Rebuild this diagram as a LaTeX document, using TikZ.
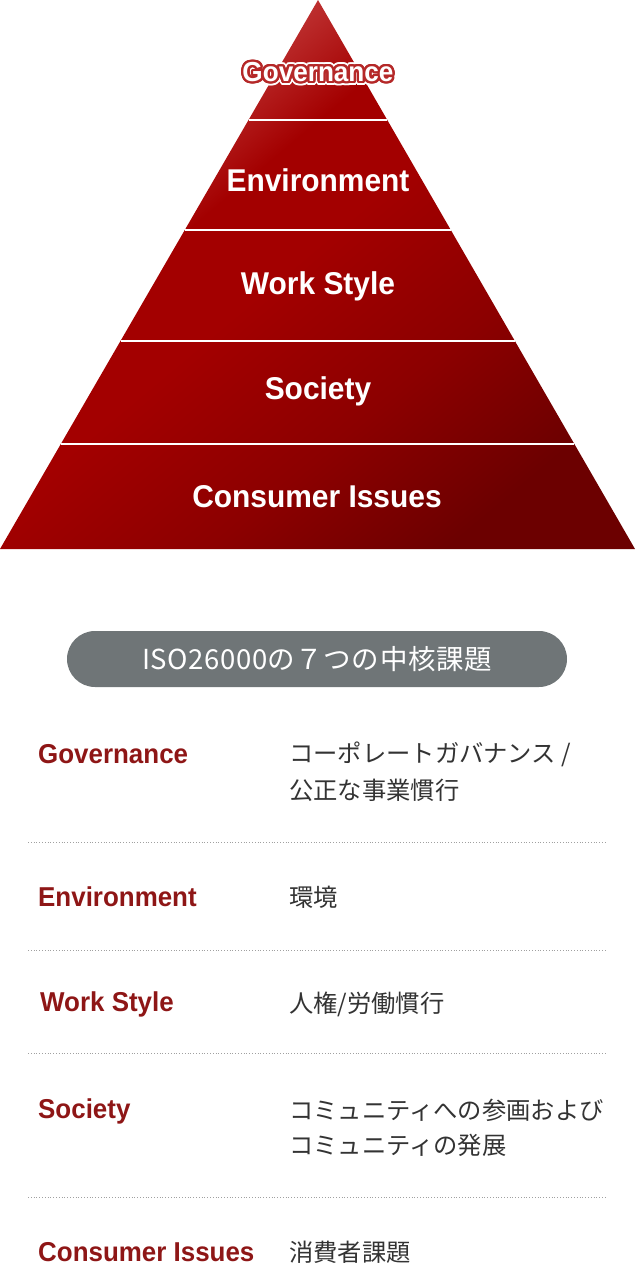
\documentclass[tikz,border=0pt]{standalone}
\usepackage{fontspec}
\newfontfamily\labfont[FakeStretch=0.95]{Liberation Sans}
\newfontfamily\jpfont{Noto Sans CJK JP}
\newfontfamily\jppill[LetterSpace=2]{Noto Sans CJK JP}
\definecolor{redlight}{HTML}{C43C3C}
\definecolor{redmid}{HTML}{A30000}
\definecolor{redmid2}{HTML}{8C0000}
\definecolor{reddark}{HTML}{6C0000}
\definecolor{labred}{HTML}{8E1616}
\definecolor{jpgray}{HTML}{333333}
\definecolor{pillgray}{HTML}{6F7577}
\definecolor{outred}{HTML}{B52828}
\definecolor{sepgray}{HTML}{A0A0A0}
\pgfdeclareverticalshading{pyrshade}{100bp}{color(0bp)=(reddark); color(25bp)=(reddark); color(38bp)=(redmid2); color(52bp)=(redmid); color(60bp)=(redmid); color(70bp)=(redlight); color(100bp)=(redlight)}
\tikzset{
  pyrlab/.style={text=white, font=\labfont\bfseries\fontsize{31.5}{36}\selectfont, inner sep=0pt},
  govlab/.style={font=\labfont\bfseries\fontsize{27.5}{32}\selectfont, inner sep=0pt},
  rowlab/.style={text=labred, font=\labfont\bfseries\fontsize{27.3}{30}\selectfont, anchor=west, inner sep=0pt},
  jptext/.style={text=jpgray, font=\jpfont\fontsize{24.3}{28}\selectfont, anchor=west, inner sep=0pt},
  sepline/.style={draw=sepgray, line width=0.8pt, dotted},
  layerline/.style={draw=white, line width=2pt},
  pill/.style={fill=pillgray, rounded corners=28pt, minimum width=500pt, minimum height=56pt, text=white, font=\jppill\fontsize{27.5}{30}\selectfont}
}
\begin{document}
\begin{tikzpicture}[x=1pt,y=-1pt]
\useasboundingbox (0,0) rectangle (635,1265);
% pyramid
\shade[shading=pyrshade, shading angle=40]
  (318,0) -- (635,549) -- (0,549) -- cycle;
\coordinate (l1) at (248.5,120); \coordinate (r1) at (387.3,120);
\coordinate (l2) at (184.8,230); \coordinate (r2) at (450.8,230);
\coordinate (l3) at (120.5,341); \coordinate (r3) at (514.9,341);
\coordinate (l4) at (60.8,444);  \coordinate (r4) at (574.4,444);
\draw[layerline] (l1) -- (r1);
\draw[layerline] (l2) -- (r2);
\draw[layerline] (l3) -- (r3);
\draw[layerline] (l4) -- (r4);
% Governance with outline
\foreach \a in {0,15,...,345} {
  \node[govlab, text=white] (gw\a) at ({318+4.2*cos(\a)},{72+4.2*sin(\a)}) {Governance};
}
\foreach \a in {0,15,...,345} {
  \node[govlab, text=outred] (gr\a) at ({318+2.3*cos(\a)},{72+2.3*sin(\a)}) {Governance};
}
\node[govlab, text=white] (pgov) at (318,72) {Governance};
\node[pyrlab] (penv) at (318,180) {Environment};
\node[pyrlab] (pwork) at (318,286) {Work Style};
\node[pyrlab] (psoc) at (318,391) {Society};
\node[pyrlab] (pcons) at (317,497) {Consumer Issues};
% pill
\node[pill] (title) at (317,659) {ISO26000の７つの中核課題};
% rows
\node[rowlab] (tgov) at (38,754) {Governance};
\node[jptext] (jgov1) at (289,754) {コーポレートガバナンス /};
\node[jptext] (jgov2) at (289,790) {公正な事業慣行};
\coordinate (s1a) at (28,842); \coordinate (s1b) at (607,842);
\draw[sepline] (s1a) -- (s1b);
\node[rowlab] (tenv) at (38,897) {Environment};
\node[jptext] (jenv) at (289,897) {環境};
\coordinate (s2a) at (28,950); \coordinate (s2b) at (607,950);
\draw[sepline] (s2a) -- (s2b);
\node[rowlab] (twork) at (40,1004) {Work Style};
\node[jptext] (jwork) at (289,1004) {人権/労働慣行};
\coordinate (s3a) at (28,1053); \coordinate (s3b) at (607,1053);
\draw[sepline] (s3a) -- (s3b);
\node[rowlab] (tsoc) at (38,1111) {Society};
\node[jptext] (jsoc1) at (289,1110) {コミュニティへの参画および};
\node[jptext] (jsoc2) at (289,1145) {コミュニティの発展};
\coordinate (s4a) at (28,1197); \coordinate (s4b) at (607,1197);
\draw[sepline] (s4a) -- (s4b);
\node[rowlab] (tcons) at (38,1252) {Consumer Issues};
\node[jptext] (jcons) at (289,1252) {消費者課題};
\end{tikzpicture}
\end{document}
